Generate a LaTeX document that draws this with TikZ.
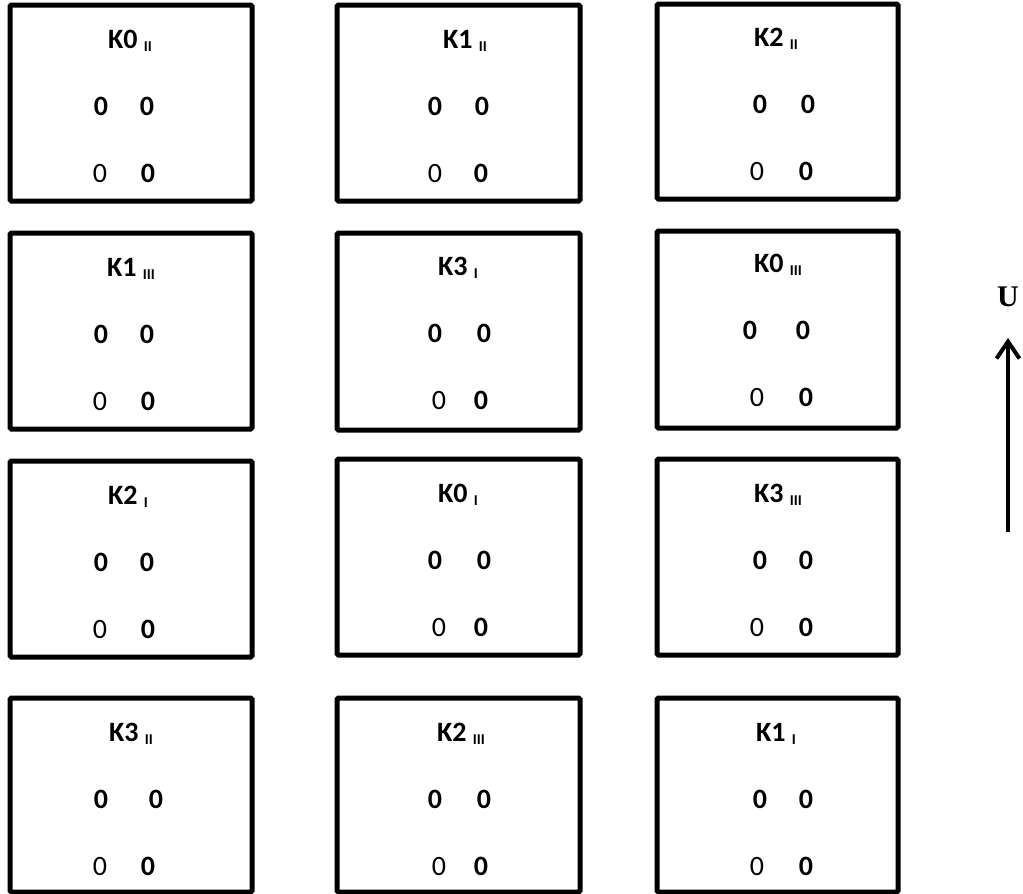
\documentclass[tikz,border=0pt]{standalone}
\usepackage{fontspec}
\setmainfont{Carlito}
\newfontfamily\serifU{Liberation Serif}
\usetikzlibrary{arrows.meta}
\tikzset{
  kbox/.style={draw, line width=5pt, rounded corners=1.5pt, inner sep=0pt},
  ktitle/.style={inner sep=0pt, anchor=base, font=\fontsize{28}{28}\selectfont\bfseries},
  zbold/.style={inner sep=0pt, anchor=base, font=\fontsize{28}{28}\selectfont\bfseries},
  zreg/.style={inner sep=0pt, anchor=base, font=\fontsize{28}{28}\selectfont},
  uarrow/.style={line width=4pt, -{Straight Barb[length=17pt,width=23pt,line width=4pt]}},
  ulabel/.style={inner sep=0pt, font=\fontsize{30}{30}\selectfont\serifU\bfseries},
}
% box: name, left, top, right, bottom
\newcommand\kboxat[5]{%
  \node[kbox, minimum width={(#4-#2)*1pt}, minimum height={(#5-#3)*1pt}]
    (#1) at ({(#2+#4)/2},{(#3+#5)/2}) {};
}
% texts: name, title, sub, title x, title y, xa, xb, xc, xd
\newcommand\ktexts[9]{%
  \node[ktitle] (#1t) at (#4,#5+9)
    {#2 \raisebox{-3pt}{\fontsize{15}{15}\selectfont #3}};
  \node[zbold] (#1a) at (#6,#5+76) {0};
  \node[zbold] (#1b) at (#7,#5+76) {0};
  \node[zreg]  (#1c) at (#8,#5+143) {0};
  \node[zbold] (#1d) at (#9,#5+143) {0};
}
\begin{document}
\begin{tikzpicture}[x=1pt,y=-1pt]
\useasboundingbox (0,0) rectangle (1023,894);
\kboxat{b11}{10}{5}{252}{201}
\kboxat{b12}{337}{5}{580}{201}
\kboxat{b13}{657}{4}{898}{199}
\kboxat{b21}{10}{233}{252}{429}
\kboxat{b22}{337}{233}{580}{430}
\kboxat{b23}{657}{231}{898}{428}
\kboxat{b31}{10}{461}{252}{657}
\kboxat{b32}{337}{459}{580}{655}
\kboxat{b33}{657}{459}{898}{655}
\kboxat{b41}{10}{698}{252}{892}
\kboxat{b42}{337}{698}{580}{892}
\kboxat{b43}{657}{698}{898}{892}
\ktexts{b11}{K0}{II}{130}{39}{101}{147}{100}{148}
\ktexts{b12}{K1}{II}{465}{39}{435}{482}{435}{481}
\ktexts{b13}{K2}{II}{776}{37}{760}{808}{757}{806}
\ktexts{b21}{K1}{III}{131}{267}{101}{147}{100}{148}
\ktexts{b22}{K3}{I}{458}{266}{435}{484}{439}{481}
\ktexts{b23}{K0}{III}{778}{263}{750}{803}{757}{806}
\ktexts{b31}{K2}{I}{128}{495}{101}{147}{100}{148}
\ktexts{b32}{K0}{I}{458}{493}{435}{484}{439}{481}
\ktexts{b33}{K3}{III}{778}{493}{760}{806}{757}{806}
\ktexts{b41}{K3}{II}{131}{732}{101}{156}{100}{148}
\ktexts{b42}{K2}{III}{461}{732}{435}{484}{439}{481}
\ktexts{b43}{K1}{I}{776}{732}{760}{806}{757}{806}
\node[ulabel] (U) at (1008,297) {U};
\coordinate (abase) at (1008,532);
\coordinate (atip) at (1008,338);
\draw[uarrow] (abase) -- (atip);
\end{tikzpicture}
\end{document}
